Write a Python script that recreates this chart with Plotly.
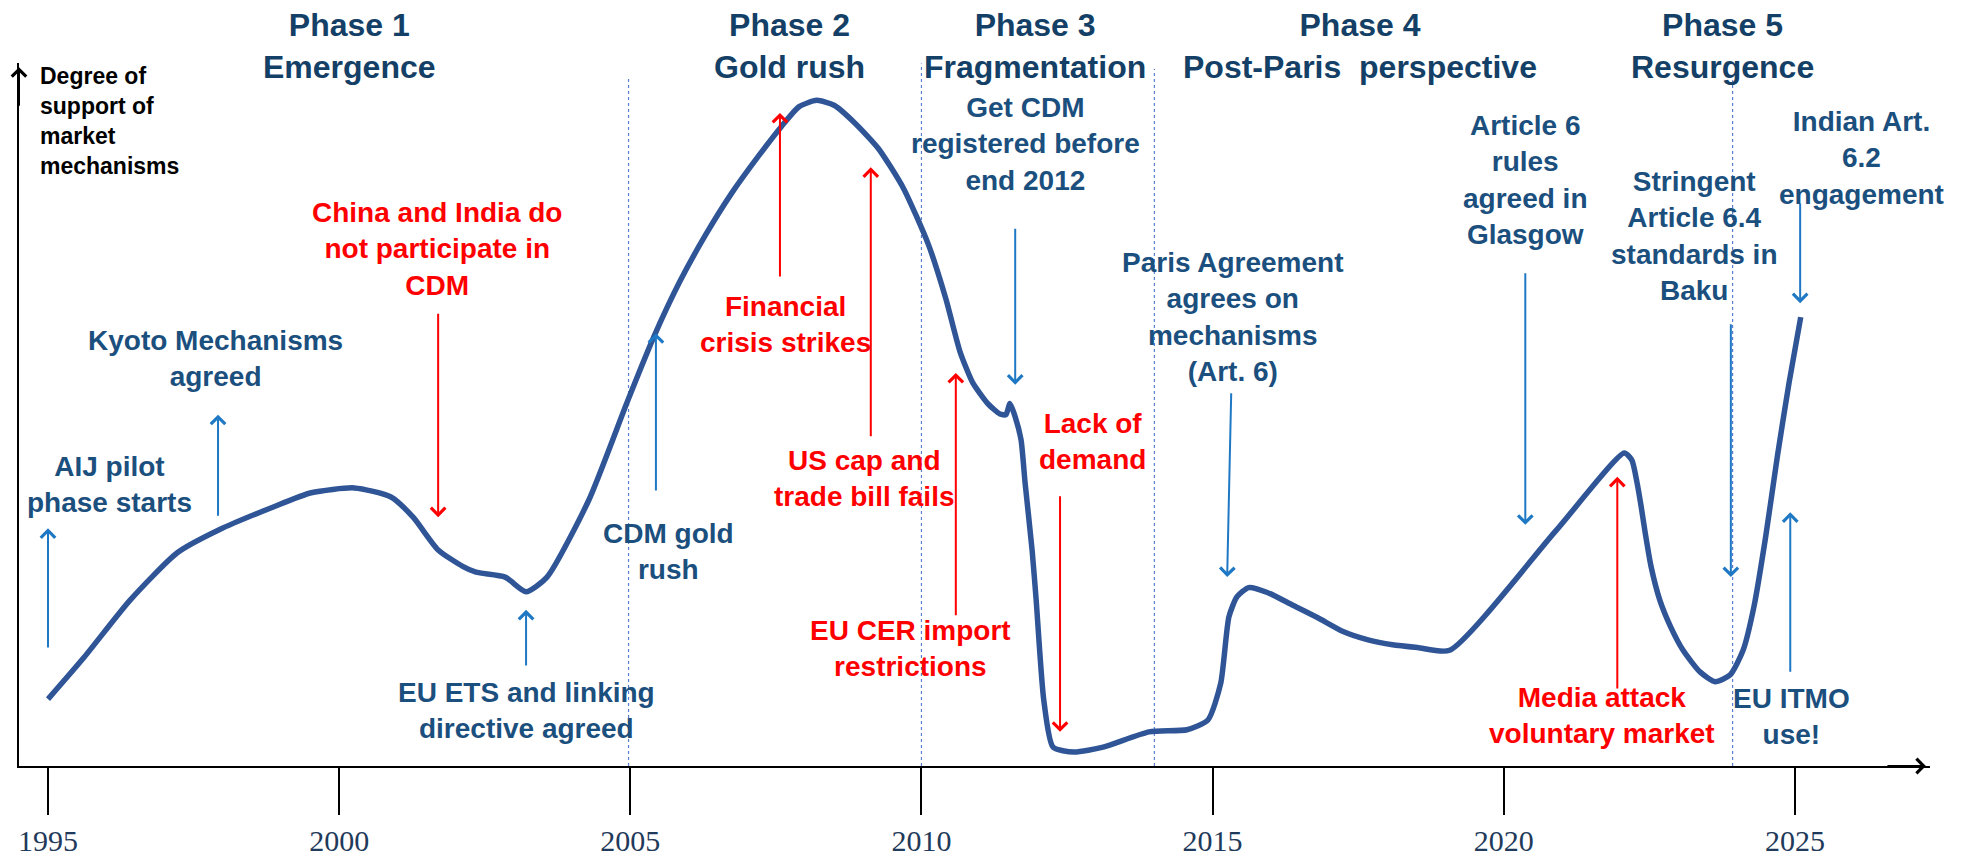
import plotly.graph_objects as go

# ---------------- data ----------------
years = [1995.00, 1995.62, 1996.41, 1997.22, 1997.94, 1998.88, 1999.52, 2000.26, 2000.89,
         2001.27, 2001.70, 2002.13, 2002.35, 2002.85, 2003.21, 2003.57, 2004.29, 2004.95,
         2005.40, 2005.85, 2006.30, 2006.75, 2007.20, 2007.60, 2007.90, 2008.20, 2008.50,
         2008.85, 2009.26, 2009.69, 2010.12, 2010.42, 2010.66, 2010.88, 2011.15, 2011.35,
         2011.45, 2011.52, 2011.61, 2011.71, 2011.78, 2011.90, 2011.97, 2012.10, 2012.26,
         2012.62, 2013.12, 2013.91, 2014.56, 2014.92, 2015.14, 2015.28, 2015.42, 2015.62,
         2015.94, 2016.37, 2016.80, 2017.24, 2017.67, 2018.09, 2018.52, 2019.07, 2020.90,
         2022.07, 2022.20, 2022.29, 2022.36, 2022.43, 2022.53, 2022.68, 2022.87, 2023.08,
         2023.37, 2023.63, 2023.89, 2024.11, 2024.30, 2024.50, 2024.70, 2024.90, 2025.10]
support = [9.6, 15.6, 23.8, 30.6, 33.9, 37.2, 39.2, 39.9, 38.6,
           35.7, 31.0, 28.6, 27.8, 27.1, 25.0, 27.1, 38.2, 52.3,
           61.5, 69.5, 76.3, 82.3, 87.5, 91.8, 94.6, 95.5, 94.8,
           92.3, 88.6, 82.9, 74.8, 67.0, 59.5, 55.0, 51.9, 50.5,
           50.4, 52.0, 50.1, 46.8, 40.6, 31.0, 23.8, 9.5, 2.7,
           2.0, 2.7, 4.9, 5.2, 6.6, 11.9, 21.4, 24.3, 25.6,
           24.9, 23.1, 21.3, 19.3, 18.1, 17.4, 17.0, 16.6, 33.8,
           44.9, 43.9, 40.6, 37.2, 33.4, 28.6, 23.8, 19.9, 16.6,
           13.5, 12.1, 13.1, 16.6, 23.0, 33.0, 44.5, 55.0, 64.4]

tick_years = [1995, 2000, 2005, 2010, 2015, 2020, 2025]
tick_labels = ["1995", "2000", "2005", "2010", "2015", "2020", "2025"]

phase_bounds = [2004.97, 2010.00, 2014.00, 2023.93]
phase_bound_tops = [98.7, 100.8, 100.0, 98.4]

phase_titles = ["Phase 1<br>Emergence", "Phase 2<br>Gold rush", "Phase 3<br>Fragmentation",
                "Phase 4<br>Post-Paris  perspective", "Phase 5<br>Resurgence"]
phase_x = [2000.17, 2007.74, 2011.95, 2017.53, 2023.75]

event_texts = ["AIJ pilot<br>phase starts",
               "Kyoto Mechanisms<br>agreed",
               "EU ETS and linking<br>directive agreed",
               "CDM gold<br>rush",
               "Get CDM<br>registered before<br>end 2012",
               "Paris Agreement<br>agrees on<br>mechanisms<br>(Art. 6)",
               "Article 6<br>rules<br>agreed in<br>Glasgow",
               "Stringent<br>Article 6.4<br>standards in<br>Baku",
               "Indian Art.<br>6.2<br>engagement",
               "EU ITMO<br>use!",
               "China and India do<br>not participate in<br>CDM",
               "Financial<br>crisis strikes",
               "US cap and<br>trade bill fails",
               "EU CER import<br>restrictions",
               "Lack of<br>demand",
               "Media attack<br>voluntary market"]
event_x = [1996.06, 1997.87, 2003.21, 2005.66, 2011.78, 2015.35, 2020.37, 2023.27, 2026.15,
           2024.95, 2001.68, 2007.66, 2009.03, 2009.82, 2012.93, 2021.69]
event_y = [40.4, 58.4, 7.9, 30.8, 89.2, 64.4, 84.1, 76.0, 87.2,
           7.1, 74.2, 63.3, 41.2, 16.8, 46.6, 7.3]
event_kind = ["pos"] * 10 + ["neg"] * 6

arrow_x_tail = [1995.00, 1997.92, 2003.21, 2005.44, 2011.61, 2015.32, 2020.37, 2023.90, 2025.09,
                2024.92, 2001.70, 2007.57, 2009.13, 2010.59, 2012.38, 2021.95]
arrow_x_head = [1995.00, 1997.92, 2003.21, 2005.44, 2011.61, 2015.25, 2020.37, 2023.90, 2025.09,
                2024.92, 2001.70, 2007.57, 2009.13, 2010.59, 2012.38, 2021.95]
arrow_tail = [16.8, 35.7, 14.2, 39.3, 77.3, 53.7, 70.9, 63.6, 80.9,
              13.3, 65.1, 70.0, 47.1, 21.4, 38.9, 10.9]
arrow_head = [34.1, 50.4, 22.4, 62.1, 54.7, 27.1, 34.6, 27.1, 66.4,
              36.4, 35.7, 93.7, 85.9, 56.4, 4.9, 41.5]
arrow_kind = ["pos"] * 10 + ["neg"] * 6

y_axis_label = "Degree of<br>support of<br>market<br>mechanisms"

# ---------------- style ----------------
TEXT_BLUE = "#1B4F7E"
TITLE_BLUE = "#143F66"
ARROW_BLUE = "#1F78C4"
RED = "#FF0000"
CURVE = "#2F5597"
FONT = "Liberation Sans, Arial, sans-serif"

X_RANGE = [1994.502, 2027.320]
Y_RANGE = [0, 100.86]

fig = go.Figure()

# phase boundaries
for xb, top in zip(phase_bounds, phase_bound_tops):
    fig.add_trace(go.Scatter(x=[xb, xb], y=[0, top], mode="lines",
                             line=dict(color="#5B7FD0", width=1.2, dash="3px,3px"),
                             hoverinfo="skip", showlegend=False))

# main curve
fig.add_trace(go.Scatter(x=years, y=support, mode="lines",
                         line=dict(color=CURVE, width=5.5, shape="spline", smoothing=0.6),
                         hoverinfo="skip", showlegend=False))

ann = []
# arrows
for xt, xh, yt, yh, k in zip(arrow_x_tail, arrow_x_head, arrow_tail, arrow_head, arrow_kind):
    ann.append(dict(x=xh, y=yh, ax=xt, ay=yt, xref="x", yref="y", axref="x", ayref="y",
                    text="", showarrow=True, arrowhead=4, arrowsize=1.4, arrowwidth=2,
                    arrowcolor=ARROW_BLUE if k == "pos" else RED, standoff=0, startstandoff=0))

# event texts
for t, xv, yv, k in zip(event_texts, event_x, event_y, event_kind):
    ann.append(dict(x=xv, y=yv, xref="x", yref="y", text="<b>" + t + "</b>", showarrow=False,
                    xanchor="center", yanchor="middle", align="center",
                    font=dict(family=FONT, size=28, color=TEXT_BLUE if k == "pos" else RED)))

# phase titles
for t, xv in zip(phase_titles, phase_x):
    ann.append(dict(x=xv, y=1.0245, xref="x", yref="paper", text="<b>" + t + "</b>",
                    showarrow=False, xanchor="center", yanchor="middle", align="center",
                    font=dict(family=FONT, size=32, color=TITLE_BLUE)))

# y axis label
ann.append(dict(x=1994.83, y=92.5, xref="x", yref="y", text="<b>" + y_axis_label + "</b>",
                showarrow=False, xanchor="left", yanchor="middle", align="left",
                font=dict(family=FONT, size=23, color="#000000")))

# axis arrowheads
ann.append(dict(x=X_RANGE[1] - 0.07, y=0, xref="x", yref="y", ax=-40, ay=0, text="",
                showarrow=True, arrowhead=4, arrowsize=1.4, arrowwidth=2, arrowcolor="#000000",
                standoff=0))
ann.append(dict(x=X_RANGE[0], y=Y_RANGE[1] - 0.6, xref="x", yref="y", ax=0, ay=40, text="",
                showarrow=True, arrowhead=4, arrowsize=1.4, arrowwidth=2, arrowcolor="#000000",
                standoff=0))

# the page body keeps its default 8px margin: the figure is sized so that no scrollbar appears
fig.update_layout(
    width=1952, height=847,
    margin=dict(l=11, r=30, t=55, b=89, autoexpand=False),
    paper_bgcolor="white", plot_bgcolor="white",
    annotations=ann,
    xaxis=dict(range=X_RANGE, showgrid=False, zeroline=False, showline=True, automargin=False,
               linecolor="#000000", linewidth=2, ticks="outside", ticklen=47,
               tickwidth=1.5, tickcolor="#000000", tickvals=tick_years, ticktext=tick_labels,
               tickfont=dict(family="Liberation Serif, Times New Roman, serif", size=30,
                             color="#1F3A5A"),
               ticklabelstandoff=0, fixedrange=True),
    yaxis=dict(range=Y_RANGE, showgrid=False, zeroline=False, showline=True, automargin=False,
               linecolor="#000000", linewidth=2, showticklabels=False, ticks="",
               fixedrange=True),
)

fig.write_html("out.html")
